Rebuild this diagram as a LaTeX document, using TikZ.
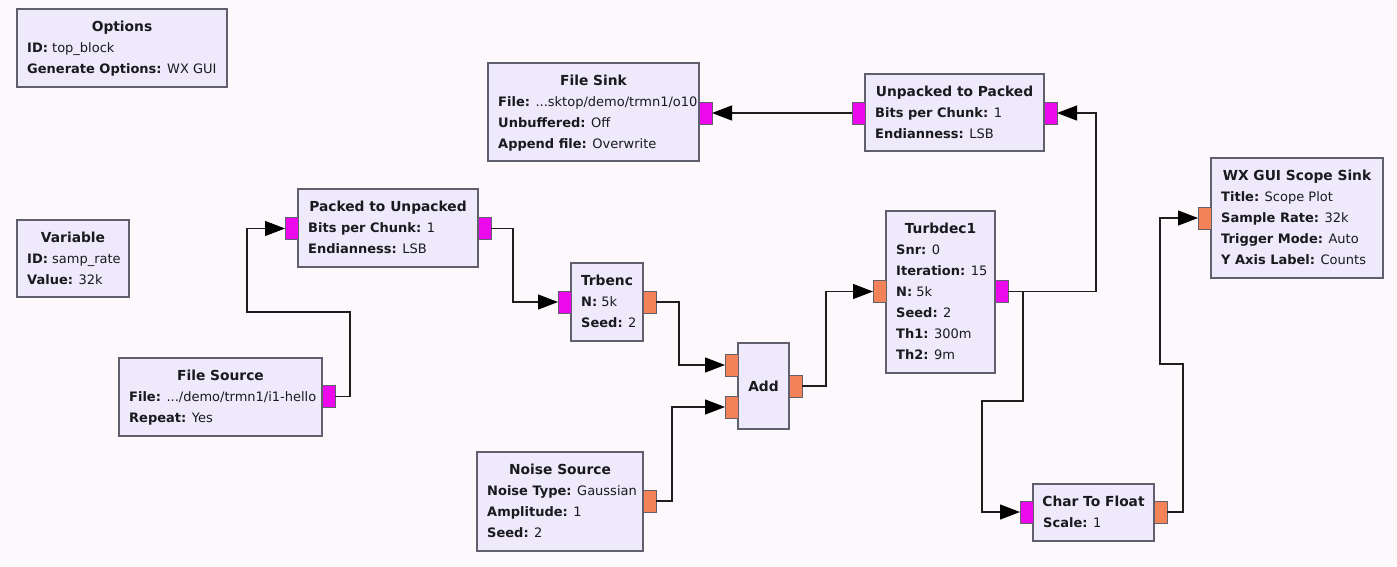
\documentclass[tikz,border=0pt]{standalone}
\usepackage{fontspec}
\setmainfont{DejaVu Sans}
\usetikzlibrary{arrows.meta,calc}
\definecolor{canvas}{RGB}{252,248,252}
\definecolor{blockfill}{RGB}{239,234,251}
\definecolor{blockline}{RGB}{95,95,110}
\definecolor{portmag}{RGB}{236,10,236}
\definecolor{portora}{RGB}{243,130,88}
\definecolor{txt}{RGB}{25,25,30}
\definecolor{wirec}{RGB}{30,30,30}
\tikzset{
 block/.style={draw=blockline, fill=blockfill, line width=1.2pt, inner sep=0pt, outer sep=0pt},
 port/.style={draw=blockline, line width=0.8pt, minimum width=13pt, minimum height=22pt, inner sep=0pt, outer sep=0pt},
 bport/.style={port, fill=portmag},
 fport/.style={port, fill=portora},
 ttl/.style={anchor=base, font=\fontsize{13.8}{16}\selectfont\bfseries, text=txt, inner sep=0pt},
 prop/.style={anchor=base west, font=\fontsize{13}{15}\selectfont, text=txt, inner sep=0pt},
 wire/.style={draw=wirec, line width=1.2pt, -{Triangle[length=20pt,width=15pt,fill=black,color=black]}},
}
\newcommand\gblk[6]{%
 \node[block, minimum width={(#4-#2)*1pt}, minimum height={(#5-#3)*1pt}] (#1) at ({(#2+#4)/2},{(#3+#5)/2}) {};
 \node[ttl] (#1-t) at ({(#2+#4)/2},{#3+22.5}) {#6};}
\newcommand\gprop[4]{%
 \node[prop] (#1-p#2) at ($(#1.north west)+(10,{22.5+21*#2})$) {\textbf{#3:} #4};}
\begin{document}
\begin{tikzpicture}[x=1pt,y=-1pt]
\fill[canvas] (0,0) rectangle (1397,566);
\useasboundingbox (0,0) rectangle (1397,566);

% Options
\gblk{opts}{17}{9}{227}{87}{Options}
\gprop{opts}{1}{ID}{top\_block}
\gprop{opts}{2}{Generate Options}{WX GUI}

% Variable
\gblk{var}{17}{220}{129}{297}{Variable}
\gprop{var}{1}{ID}{samp\_rate}
\gprop{var}{2}{Value}{32k}

% Packed to Unpacked
\gblk{p2u}{298}{189}{478}{267}{Packed to Unpacked}
\gprop{p2u}{1}{Bits per Chunk}{1}
\gprop{p2u}{2}{Endianness}{LSB}

% File Source
\gblk{fsrc}{119}{358}{322}{436}{File Source}
\gprop{fsrc}{1}{File}{.../demo/trmn1/i1-hello}
\gprop{fsrc}{2}{Repeat}{Yes}

% File Sink
\gblk{fsink}{488}{63}{699}{161}{File Sink}
\gprop{fsink}{1}{File}{...sktop/demo/trmn1/o10}
\gprop{fsink}{2}{Unbuffered}{Off}
\gprop{fsink}{3}{Append file}{Overwrite}

% Unpacked to Packed
\gblk{u2p}{865}{74}{1044}{151}{Unpacked to Packed}
\gprop{u2p}{1}{Bits per Chunk}{1}
\gprop{u2p}{2}{Endianness}{LSB}

% WX GUI Scope Sink
\gblk{wx}{1211}{158}{1383}{278}{WX GUI Scope Sink}
\gprop{wx}{1}{Title}{Scope Plot}
\gprop{wx}{2}{Sample Rate}{32k}
\gprop{wx}{3}{Trigger Mode}{Auto}
\gprop{wx}{4}{Y Axis Label}{Counts}

% Trbenc
\gblk{trb}{571}{263}{643}{341}{Trbenc}
\gprop{trb}{1}{N}{5k}
\gprop{trb}{2}{Seed}{2}

% Add
\node[block, minimum width=51pt, minimum height=86pt] (add) at (763.5,386) {};
\node[ttl, anchor=center] (add-t) at (763.5,386) {Add};

% Noise Source
\gblk{noise}{477}{452}{643}{551}{Noise Source}
\gprop{noise}{1}{Noise Type}{Gaussian}
\gprop{noise}{2}{Amplitude}{1}
\gprop{noise}{3}{Seed}{2}

% Turbdec1
\gblk{tdec}{886}{211}{995}{373}{Turbdec1}
\gprop{tdec}{1}{Snr}{0}
\gprop{tdec}{2}{Iteration}{15}
\gprop{tdec}{3}{N}{5k}
\gprop{tdec}{4}{Seed}{2}
\gprop{tdec}{5}{Th1}{300m}
\gprop{tdec}{6}{Th2}{9m}

% Char To Float
\gblk{c2f}{1033}{484}{1154}{541}{Char To Float}
\gprop{c2f}{1}{Scale}{1}

% Ports
\node[bport] (fsrc-o) at (328.5,396.5) {};
\node[bport] (p2u-i) at (291.5,228.5) {};
\node[bport] (p2u-o) at (484.5,228.5) {};
\node[bport] (trb-i) at (564.5,302) {};
\node[fport] (trb-o) at (649.5,302) {};
\node[fport] (add-i1) at (731.5,365) {};
\node[fport] (add-i2) at (731.5,407) {};
\node[fport] (add-o) at (795.5,386) {};
\node[fport] (noise-o) at (649.5,501) {};
\node[fport] (tdec-i) at (879.5,291.5) {};
\node[bport] (tdec-o) at (1001.5,291.5) {};
\node[bport] (u2p-i) at (858.5,113) {};
\node[bport] (u2p-o) at (1050.5,113) {};
\node[bport] (fsink-i) at (705.5,113) {};
\node[bport] (c2f-i) at (1026.5,512) {};
\node[fport] (c2f-o) at (1160.5,512) {};
\node[fport] (wx-i) at (1204.5,218) {};

% Connections
\draw[wire] (fsrc-o.east) -- (350,396.5) -- (350,312) -- (247,312) |- (p2u-i.west);
\draw[wire] (p2u-o.east) -| (513,302) -- (trb-i.west);
\draw[wire] (trb-o.east) -| (679,365) -- (add-i1.west);
\draw[wire] (noise-o.east) -| (672,407) -- (add-i2.west);
\draw[wire] (add-o.east) -| (826,291.5) -- (tdec-i.west);
\draw[wire] (tdec-o.east) -| (1096,113) -- (u2p-o.east);
\draw[wire] (tdec-o.east) -- (1023,291.5) -- (1023,401) -- (982,401) |- (c2f-i.west);
\draw[wire] (u2p-i.west) -- (fsink-i.east);
\draw[wire] (c2f-o.east) -| (1183,364) -| (1160,218) -- (wx-i.west);
\end{tikzpicture}
\end{document}
